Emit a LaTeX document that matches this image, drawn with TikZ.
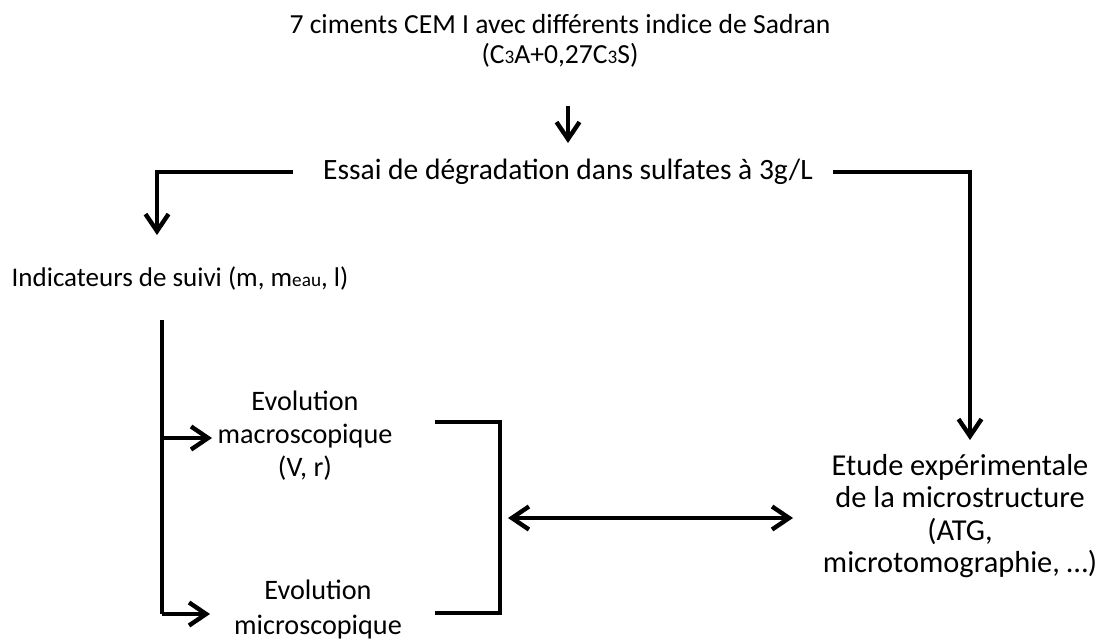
\documentclass[tikz,border=0pt]{standalone}
\usepackage{fontspec}
\setmainfont{Carlito}
\usetikzlibrary{positioning, arrows.meta}
\newcommand{\petit}[1]{{\fontsize{9.6}{10}\selectfont #1}}

\begin{document}
\begin{tikzpicture}[
  x=0.5pt, y=-0.5pt,
  every node/.style={align=center, inner sep=0pt},
  arr/.style={-{Straight Barb[length=8.5pt, width=11.5pt]}, line width=2.2pt},
  arr2/.style={{Straight Barb[length=8.5pt, width=11.5pt]}-{Straight Barb[length=8.5pt, width=11.5pt]}, line width=2.2pt},
  lien/.style={line width=2.2pt}
]
  \useasboundingbox (0,0) rectangle (1104,643);

  \node[font=\fontsize{13.8}{15}\selectfont] (ciments) at (560,41) {7 ciments CEM I avec différents indice de Sadran\\(C\petit{3}A+0,27C\petit{3}S)};
  \node[font=\fontsize{14.75}{17}\selectfont] (essai) at (568,172) {Essai de dégradation dans sulfates à 3g/L};
  \node[font=\fontsize{13.5}{16}\selectfont] (indic) at (180,278) {Indicateurs de suivi (m, m\petit{eau}, l)};
  \node[font=\fontsize{14.1}{16.5}\selectfont] (macro) at (305,436) {Evolution\\macroscopique\\(V, r)};
  \node[font=\fontsize{14.1}{17.5}\selectfont] (micro) at (318,609) {Evolution\\microscopique};
  \node[font=\fontsize{15.2}{16.3}\selectfont] (etude) at (960,516) {Etude expérimentale\\de la microstructure\\(ATG,\\microtomographie, …)};

  \coordinate (haut) at (162,320);
  \coordinate (bas) at (162,614);
  \coordinate (ch) at (435,422);
  \coordinate (cb) at (435,613);
  \coordinate (cm) at (500,518);

  \draw[arr] (568,106) -- (568,143);
  \draw[arr] ([xshift=-15pt]essai.west) -| (157,235);
  \draw[arr] ([xshift=10pt]essai.east) -| (970,440);

  \draw[lien] (haut) -- (bas);
  \draw[arr] (haut |- 0,438) -- (212,438);
  \draw[arr] (bas) -- (bas -| 210,0);

  \draw[lien] (ch) -| (cm |- cb) -- (cb);
  \draw[arr2] ([xshift=4pt]cm) -- (793,518);
\end{tikzpicture}
\end{document}
